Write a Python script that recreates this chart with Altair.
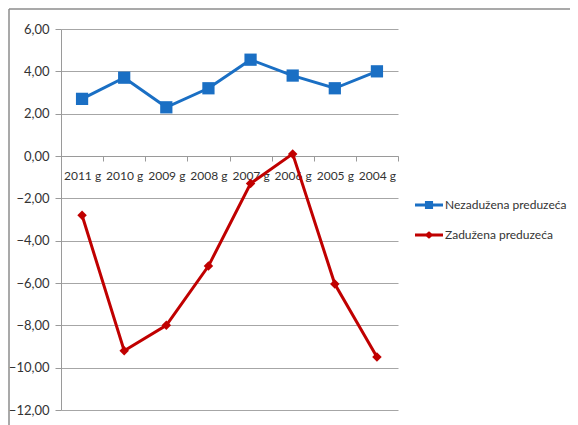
import altair as alt
import pandas as pd

years = ["2011 g", "2010 g", "2009 g", "2008 g", "2007 g", "2006 g", "2005 g", "2004 g"]
nezaduzena = [2.70, 3.70, 2.30, 3.20, 4.55, 3.80, 3.20, 4.00]
zaduzena = [-2.80, -9.20, -8.00, -5.20, -1.30, 0.10, -6.05, -9.50]
series = ["Nezadužena preduzeća", "Zadužena preduzeća"]
colors = ["#1a6fc4", "#c00000"]

rows = []
for i, y in enumerate(years):
    rows.append({"year": y, "series": series[0], "value": nezaduzena[i]})
for i, y in enumerate(years):
    rows.append({"year": y, "series": series[1], "value": zaduzena[i]})
df = pd.DataFrame(rows)

W, H = 337, 381
FONT = "Lato"

x = alt.X("year:N", sort=years, title=None,
          scale=alt.Scale(type="band", paddingInner=0, paddingOuter=0),
          axis=alt.Axis(orient="bottom", offset=-254, domainColor="#9a9a9a", tickColor="#9a9a9a",
                        tickBand="extent", tickSize=5, labelPadding=9, labelAngle=0,
                        labelFontSize=12, labelColor="#333333", labelFont=FONT, grid=False))
y = alt.Y("value:Q", title=None,
          scale=alt.Scale(domain=[-12, 6], nice=False, zero=False),
          axis=alt.Axis(values=list(range(-12, 7, 2)), labelExpr="replace(format(datum.value, '.2f'), '.', ',')",
                        gridColor="#a6a6a6", domainColor="#9a9a9a", tickColor="#9a9a9a", tickSize=6,
                        labelPadding=6, labelFontSize=13, labelColor="#333333", labelFont=FONT))
color_scale = alt.Scale(domain=series, range=colors)

base = alt.Chart(df)
one = pd.DataFrame({"a": [0]})

border_top = alt.Chart(one).mark_rule(stroke="#8c8c8c", strokeWidth=1.5).encode(
    x=alt.value(-52), x2=alt.value(W + 300), y=alt.value(-20))
border_left = alt.Chart(one).mark_rule(stroke="#8c8c8c", strokeWidth=1.5).encode(
    x=alt.value(-52), y=alt.value(-20), y2=alt.value(H + 100))

lines = base.mark_line(strokeWidth=3).encode(
    x=x, y=y, color=alt.Color("series:N", scale=color_scale, legend=None), detail="series:N")

points = base.mark_point(filled=True, opacity=1).encode(
    x=x, y=y,
    color=alt.Color("series:N", scale=color_scale, legend=None),
    shape=alt.Shape("series:N", scale=alt.Scale(domain=series, range=["square", "diamond"]), legend=None),
    size=alt.Size("series:N", scale=alt.Scale(domain=series, range=[150, 90]), legend=None))

legend_paths = [
    "M-1,-0.11H1V0.11H-1Z M-0.29,-0.29H0.29V0.29H-0.29Z",
    "M-1,-0.1H1V0.1H-1Z M0,-0.26L0.33,0L0,0.26L-0.33,0Z",
]
leg = alt.Legend(title=None, orient="none", legendX=354, legendY=162,
                 symbolSize=784, symbolOpacity=1, labelFontSize=12,
                 labelColor="#333333", labelFont=FONT, rowPadding=10,
                 labelOffset=2, symbolStrokeWidth=0)
legend_layer = base.mark_point(filled=True, opacity=0).encode(
    x=x, y=y,
    color=alt.Color("series:N", scale=color_scale, legend=leg),
    shape=alt.Shape("series:N", scale=alt.Scale(domain=series, range=legend_paths), legend=leg))

chart = alt.layer(border_top, border_left, lines, points, legend_layer).resolve_scale(
    color="independent", shape="independent", size="independent"
).resolve_legend(color="independent", shape="independent").properties(
    width=W, height=H,
    background="white",
    autosize=alt.AutoSizeParams(type="none"),
    padding={"left": 53, "top": 21, "right": 172, "bottom": 15},
).configure_view(strokeWidth=0, stroke="transparent")

chart.save("out.html", embed_options={"renderer": "svg", "actions": False})
